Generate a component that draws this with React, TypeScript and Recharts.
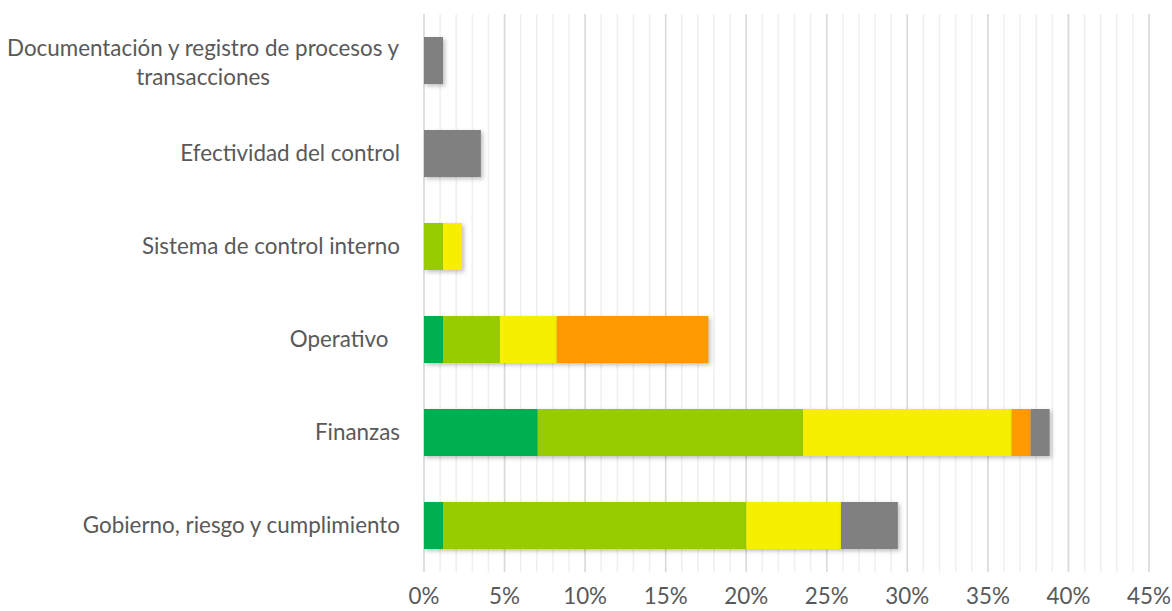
import React from 'react';
import { BarChart, Bar, XAxis, YAxis, CartesianGrid } from 'recharts';

// categories top to bottom, values in % (1 unit = 1/85)
const categories = [
  'Documentación y registro de procesos y transacciones',
  'Efectividad del control',
  'Sistema de control interno',
  'Operativo  ',
  'Finanzas',
  'Gobierno, riesgo y cumplimiento',
];
const darkGreen = [0, 0, 0, 1.18, 7.06, 1.18];
const lightGreen = [0, 0, 1.18, 3.53, 16.47, 18.82];
const yellow = [0, 0, 1.18, 3.53, 12.94, 5.88];
const orange = [0, 0, 0, 9.41, 1.18, 0];
const gray = [1.18, 3.53, 0, 0, 1.18, 3.53];

const majorTicks = [0, 5, 10, 15, 20, 25, 30, 35, 40, 45];
const minorTicks = Array.from({ length: 46 }, (_, i) => i);

const FONT = 'Lato, sans-serif';
const FONT_SIZE = 22.4;
const TEXT = '#595959';

const data = categories.map((name, i) => ({
  name,
  s1: darkGreen[i],
  s2: lightGreen[i],
  s3: yellow[i],
  s4: orange[i],
  s5: gray[i],
}));

const series = [
  { key: 's1', color: '#00b050' },
  { key: 's2', color: '#99cc00' },
  { key: 's3', color: '#f6ef00' },
  { key: 's4', color: '#ff9900' },
  { key: 's5', color: '#808080' },
];

let ctx: CanvasRenderingContext2D | null = null;
function measure(s: string) {
  if (!ctx) {
    ctx = document.createElement('canvas').getContext('2d');
  }
  if (!ctx) return s.length * FONT_SIZE * 0.5;
  ctx.font = `${FONT_SIZE}px ${FONT}`;
  return ctx.measureText(s).width;
}

function wrap(label: string, maxW: number) {
  const words = label.split(' ');
  const lines: string[] = [];
  let cur = '';
  words.forEach((w) => {
    const next = cur ? cur + ' ' + w : w;
    if (cur && measure(next) > maxW) {
      lines.push(cur);
      cur = w;
    } else {
      cur = next;
    }
  });
  if (cur) lines.push(cur);
  return lines;
}

function CategoryTick(props: any) {
  const { x, y, payload } = props;
  const lines = wrap(String(payload.value), 400);
  if (lines.length === 1) {
    return (
      <text x={x} y={y} dy="0.35em" textAnchor="end" fill={TEXT} fontSize={FONT_SIZE} fontFamily={FONT} style={{ whiteSpace: 'pre' }}>
        {lines[0]}
      </text>
    );
  }
  const maxW = Math.max(...lines.map(measure));
  const cx = x - maxW / 2;
  const lh = 29;
  const start = y + 2 - ((lines.length - 1) * lh) / 2;
  return (
    <g>
      {lines.map((l, i) => (
        <text key={i} x={cx} y={start + i * lh} dy="0.35em" textAnchor="middle" fill={TEXT} fontSize={FONT_SIZE} fontFamily={FONT}>
          {l}
        </text>
      ))}
    </g>
  );
}

function ShadowRect(props: any) {
  const { x, y, width, height, fill } = props;
  if (!width || width <= 0) return <g />;
  return (
    <rect
      x={x}
      y={y}
      width={width}
      height={height}
      fill={fill}
      style={{ filter: 'drop-shadow(2px 2px 2px rgba(0,0,0,0.25))' }}
    />
  );
}

// minor gridlines every 1% through the axis scale
const minorGrid = ({ xAxis }: any) => {
  const sc = xAxis && xAxis.scale;
  if (typeof sc === 'function') return minorTicks.map((t) => sc(t));
  if (sc && typeof sc.map === 'function') return minorTicks.map((t) => sc.map(t));
  return [];
};

export default function App() {
  return (
    <div style={{ position: 'fixed', left: 0, top: 0, background: '#fff' }}>
      <BarChart
        width={1172}
        height={611}
        data={data}
        layout="vertical"
        margin={{ top: 14, right: 23, bottom: 0, left: 0 }}
      >
        <CartesianGrid horizontal={false} stroke="#efefef" strokeWidth={1.5} verticalCoordinatesGenerator={minorGrid} />
        <CartesianGrid horizontal={false} stroke="#d9d9d9" strokeWidth={1.5} />
        <XAxis
          type="number"
          domain={[0, 45]}
          ticks={majorTicks}
          interval={0}
          tickFormatter={(v: number) => `${v}%`}
          axisLine={false}
          tickLine={false}
          tickSize={0}
          tickMargin={16}
          height={39}
          tick={{ fill: TEXT, fontSize: FONT_SIZE, fontFamily: FONT }}
        />
        <YAxis
          type="category"
          dataKey="name"
          width={424}
          axisLine={false}
          tickLine={false}
          tickSize={0}
          tickMargin={24}
          interval={0}
          tick={<CategoryTick />}
        />
        {series.map((s) => (
          <Bar
            key={s.key}
            dataKey={s.key}
            stackId="a"
            fill={s.color}
            barSize={47}
            isAnimationActive={false}
            shape={<ShadowRect />}
          />
        ))}
      </BarChart>
    </div>
  );
}
